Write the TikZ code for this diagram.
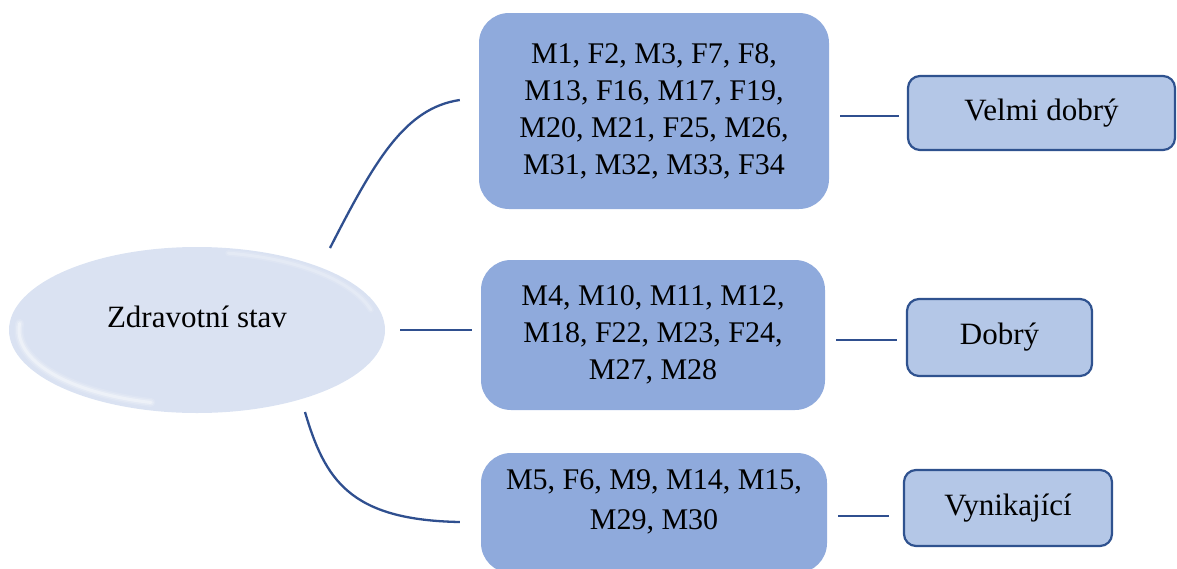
\documentclass[tikz,border=0pt]{standalone}
\usepackage{fontspec}
\setmainfont{Liberation Serif}[Ligatures=TeX]
\newfontfamily\labelface{Liberation Serif}

\definecolor{groupfill}{HTML}{8FAADC}
\definecolor{tagfill}{HTML}{B4C7E7}
\definecolor{tagline}{HTML}{2F528F}
\definecolor{linkblue}{HTML}{2F4F8F}
\definecolor{ovalfill}{HTML}{DAE2F2}

\usetikzlibrary{shapes.geometric}

\tikzset{
  groupbox/.style={fill=groupfill, rounded corners=30pt, inner sep=0pt,
    align=center, font=\labelface\fontsize{30}{37}\selectfont},
  tagbox/.style={fill=tagfill, draw=tagline, line width=2.2pt, rounded corners=12pt,
    inner sep=0pt, font=\labelface\fontsize{31}{37}\selectfont},
  link/.style={draw=linkblue, line width=2.3pt},
  plain/.style={inner sep=0pt, align=center},
}

\begin{document}
\begin{tikzpicture}[x=1pt, y=-1pt]
\useasboundingbox (0,0) rectangle (1177,568);
\clip (0,0) rectangle (1177,568);

% central oval with a soft bevel
\node[ellipse, fill=ovalfill, minimum width=376pt, minimum height=166pt, inner sep=0pt] (root) at (197,330) {};
\foreach \w/\o in {9/0.12, 6/0.2, 3/0.35} {
  \draw[white, line width=\w pt, opacity=\o, line cap=round]
    (197,330) ++(105:178 and 75) arc[start angle=105, end angle=185, x radius=178, y radius=75];
}
\foreach \w/\o in {6/0.12, 3/0.2} {
  \draw[white, line width=\w pt, opacity=\o, line cap=round]
    (197,330) ++(-15:180 and 78) arc[start angle=-15, end angle=-80, x radius=180, y radius=78];
}
\node[plain, font=\labelface\fontsize{31}{37}\selectfont] (rootlabel) at (197,317) {Zdravotní stav};

% groups of respondents
\node[groupbox, minimum width=350pt, minimum height=196pt] (box1) at (654,111)
  {M1, F2, M3, F7, F8,\\ M13, F16, M17, F19,\\ M20, M21, F25, M26,\\ M31, M32, M33, F34};
\node[groupbox, minimum width=344pt, minimum height=150pt] (box2) at (653,335)
  {M4, M10, M11, M12,\\ M18, F22, M23, F24,\\ M27, M28};
\node[groupbox, minimum width=346pt, minimum height=120pt] (box3) at (654,513) {};
\node[plain, font=\labelface\fontsize{30}{40}\selectfont] (box3text) at (654,502)
  {M5, F6, M9, M14, M15,\\ M29, M30};

% ratings
\node[tagbox, minimum width=267pt, minimum height=74pt] (tag1) at (1041.5,113) {Velmi dobrý};
\node[tagbox, minimum width=185pt, minimum height=77pt] (tag2) at (999.5,337.5) {Dobrý};
\node[tagbox, minimum width=208pt, minimum height=76pt] (tag3) at (1008,508) {Vynikající};

% branches from the oval
\draw[link] ([xshift=133pt,yshift=82pt]root.center)
  .. controls (375,160) and (405,108) .. ([xshift=-19pt,yshift=11pt]box1.west);
\draw[link] ([xshift=15pt]root.east) -- ([xshift=-9pt,yshift=5pt]box2.west);
\draw[link] ([xshift=108pt,yshift=-82pt]root.center)
  .. controls (325,480) and (350,520) .. ([xshift=-21pt,yshift=-9pt]box3.west);

% groups to ratings
\draw[link] ([xshift=11pt,yshift=-5pt]box1.east) -- ([xshift=-8pt,yshift=-5pt]box1.east -| tag1.west);
\draw[link] ([xshift=11pt,yshift=-5pt]box2.east) -- ([xshift=-9pt,yshift=-5pt]box2.east -| tag2.west);
\draw[link] ([xshift=11pt,yshift=-3pt]box3.east) -- ([xshift=-14pt,yshift=-3pt]box3.east -| tag3.west);
\end{tikzpicture}
\end{document}
